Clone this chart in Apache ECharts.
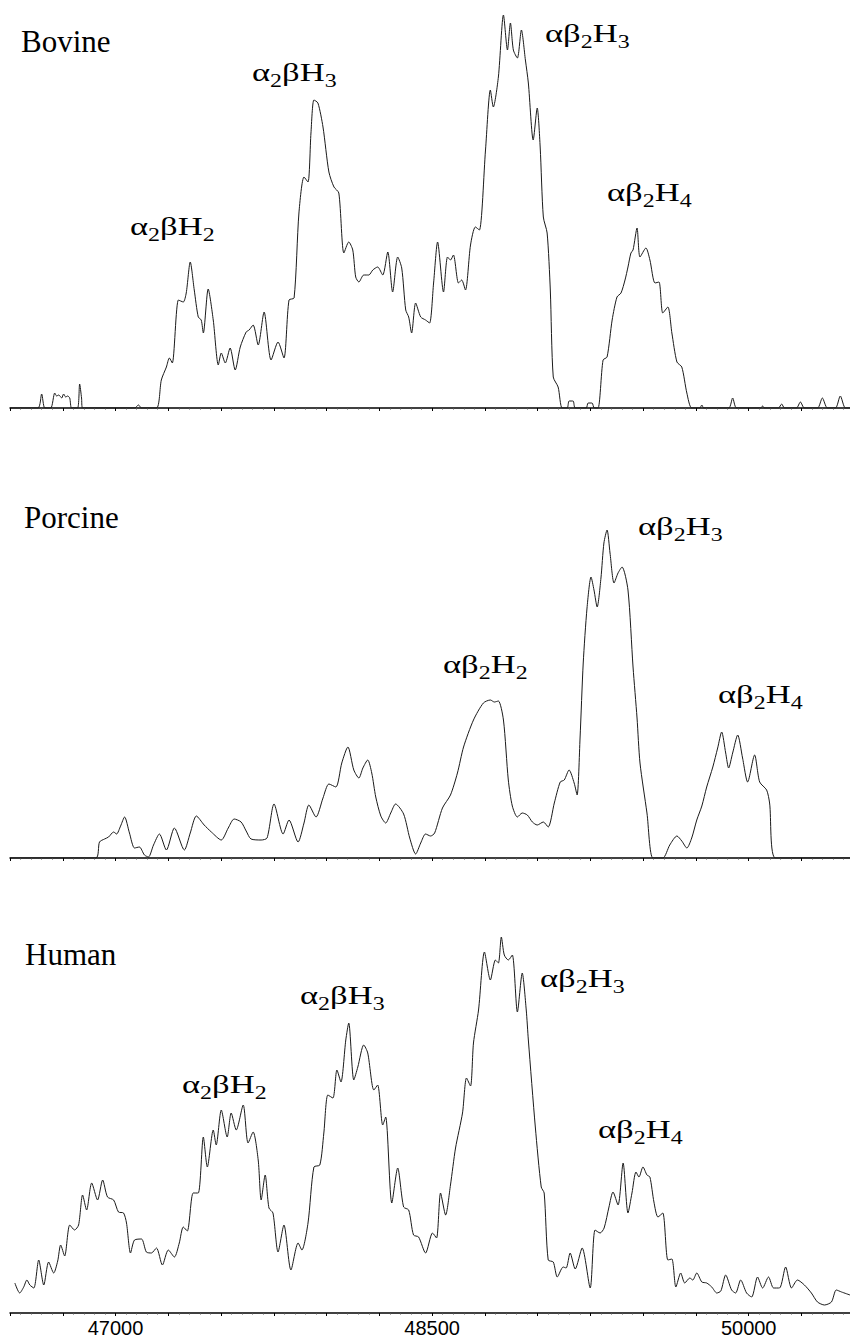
<!DOCTYPE html>
<html>
<head>
<meta charset="utf-8">
<script src="https://cdn.jsdelivr.net/npm/echarts@6/dist/echarts.min.js"></script>
<style>
html,body{margin:0;padding:0;background:#fff;}
#chart{width:850px;height:1339px;}
</style>
</head>
<body>
<div id="chart"></div>
<script>
// ---- data (mass in Da, intensity in arbitrary units) ----
var panelNames = ['Bovine', 'Porcine', 'Human'];
var xTickLabels = [47000, 48500, 50000];

var bovine = [
[46500,0],[46632,0],[46650,14],[46665,0],[46693,0],[46712,15],[46721,12],[46731,13],[46745,10],[46754,14],[46764,11],[46773,12],[46783,10],[46792,0],
[46820,0],[46830,24],[46839,10],[46844,0],[47090,0],[47109,3],[47123,0],[47194,0],[47217,28],[47241,41],[47255,50],[47269,45],
[47298,108],[47321,106],[47335,115],[47354,146],[47373,118],[47392,91],[47406,88],[47416,75],[47439,119],[47463,88],[47487,43],
[47501,55],[47520,45],[47543,60],[47567,38],[47591,61],[47619,76],[47633,78],[47652,83],[47676,63],[47704,96],[47737,48],
[47770,66],[47798,50],[47822,108],[47846,110],[47869,195],[47893,231],[47912,226],[47926,275],[47940,308],[47959,305],[47983,281],
[48011,236],[48035,221],[48058,215],[48082,155],[48105,166],[48124,158],[48138,131],[48153,126],[48176,133],[48200,133],[48219,138],
[48242,141],[48266,133],[48290,156],[48313,116],[48337,151],[48356,140],[48375,98],[48389,91],[48403,75],[48422,105],[48446,91],
[48469,88],[48488,85],[48507,125],[48526,166],[48554,116],[48573,151],[48587,148],[48601,153],[48625,125],[48640,128],[48658,118],
[48682,163],[48705,181],[48724,178],[48753,258],[48776,318],[48790,301],[48814,331],[48838,393],[48857,358],[48871,385],[48885,358],
[48904,350],[48923,378],[48942,348],[48956,325],[48979,268],[48998,300],[49012,261],[49027,191],[49045,175],[49060,118],[49074,31],
[49097,21],[49116,0],[49140,0],[49149,7],[49168,7],[49178,0],[49230,0],[49239,5],[49258,5],[49268,0],[49286,0],[49310,48],[49329,51],
[49353,88],[49376,111],[49395,115],[49414,128],[49428,141],[49442,155],[49452,158],[49471,180],[49485,151],[49513,160],[49532,148],
[49556,125],[49575,126],[49593,95],[49617,101],[49636,75],[49660,46],[49683,41],[49707,15],[49730,0],[49768,0],[49778,3],[49787,0],
[49905,0],[49924,10],[49943,0],[50056,0],[50066,2],[50075,0],[50141,0],[50156,4],[50170,0],[50226,0],[50245,6],[50264,0],
[50326,0],[50349,10],[50373,0],[50411,0],[50434,12],[50458,0],[50480,0]
];

var porcine = [
[46500,0],[46906,0],[46924,16],[46948,19],[46967,21],[46991,26],[47005,24],[47024,32],[47043,41],[47066,25],[47090,10],[47113,11],
[47137,3],[47156,1],[47180,13],[47208,24],[47241,8],[47279,30],[47326,8],[47354,25],[47383,42],[47420,33],[47454,26],[47501,18],
[47534,30],[47562,39],[47595,36],[47619,27],[47642,19],[47690,18],[47718,20],[47751,54],[47794,24],[47822,38],[47865,16],[47893,35],
[47916,53],[47950,41],[47983,60],[48011,74],[48044,71],[48072,95],[48101,111],[48129,88],[48153,80],[48172,90],[48195,98],[48214,85],
[48233,61],[48257,42],[48280,35],[48304,45],[48327,54],[48365,44],[48394,20],[48422,4],[48446,15],[48469,24],[48493,22],[48512,25],
[48549,50],[48587,63],[48620,85],[48649,111],[48696,138],[48743,155],[48776,158],[48795,156],[48814,157],[48838,138],[48861,78],
[48880,52],[48904,41],[48927,45],[48951,43],[48975,36],[48998,33],[49027,36],[49050,31],[49079,55],[49107,76],[49126,78],[49149,88],
[49173,75],[49187,63],[49201,120],[49216,195],[49234,250],[49253,281],[49267,268],[49282,251],[49300,280],[49314,315],[49329,328],
[49343,305],[49362,275],[49381,285],[49400,291],[49428,268],[49452,191],[49471,140],[49485,95],[49518,45],[49546,0],[49593,0],
[49626,13],[49660,22],[49683,17],[49707,10],[49730,20],[49754,38],[49778,52],[49801,71],[49830,91],[49853,110],[49872,126],[49891,105],
[49905,90],[49924,105],[49948,123],[49971,100],[49995,76],[50028,103],[50052,76],[50085,68],[50099,55],[50127,0],[50480,0]
];

var human = [
[46523,30],[46546,20],[46565,26],[46580,33],[46594,28],[46613,25],[46636,53],[46660,28],[46683,51],[46707,40],[46726,52],[46740,68],
[46759,57],[46783,88],[46806,83],[46825,88],[46844,118],[46863,103],[46887,130],[46915,113],[46939,133],[46962,116],[46991,113],
[47014,101],[47038,100],[47052,90],[47071,60],[47090,73],[47123,74],[47146,61],[47170,60],[47194,65],[47222,48],[47250,63],[47279,56],
[47302,70],[47321,86],[47340,82],[47368,120],[47392,120],[47416,176],[47435,146],[47463,183],[47477,168],[47501,203],[47529,176],
[47548,200],[47572,183],[47605,208],[47628,170],[47652,181],[47676,153],[47690,113],[47709,138],[47727,105],[47746,100],[47770,61],
[47798,88],[47831,43],[47865,70],[47883,63],[47912,90],[47940,146],[47968,148],[47987,180],[48006,218],[48030,215],[48049,243],
[48068,231],[48091,273],[48105,290],[48129,233],[48148,246],[48176,268],[48195,260],[48224,223],[48242,228],[48266,188],[48280,196],
[48309,110],[48337,145],[48365,106],[48389,103],[48412,78],[48436,76],[48469,60],[48502,80],[48521,75],[48540,120],[48564,98],
[48587,128],[48611,165],[48644,200],[48663,235],[48682,227],[48696,270],[48720,303],[48748,361],[48776,333],[48800,353],[48814,350],
[48828,376],[48842,358],[48861,353],[48880,358],[48904,301],[48927,340],[48946,303],[48956,273],[48989,186],[49017,126],[49031,120],
[49050,53],[49074,51],[49093,36],[49121,46],[49135,45],[49154,60],[49178,44],[49211,65],[49249,25],[49272,83],[49296,80],[49315,85],
[49338,106],[49357,121],[49381,108],[49405,150],[49428,100],[49447,120],[49466,141],[49480,136],[49499,146],[49518,138],[49532,136],
[49551,111],[49570,96],[49593,100],[49617,53],[49636,54],[49655,26],[49678,40],[49697,30],[49721,35],[49735,33],[49754,40],[49778,31],
[49801,30],[49825,26],[49849,20],[49868,22],[49891,38],[49919,23],[49938,20],[49962,33],[49990,20],[50014,16],[50042,36],[50066,25],
[50094,36],[50118,25],[50146,25],[50175,46],[50203,25],[50231,33],[50264,28],[50297,20],[50326,11],[50359,8],[50392,11],[50415,23],
[50440,21],[50480,18]
];

// peak annotation names (rich-text markup) per panel
var bovinePeaks = ['{n|α}{s|2}{n|βH}{s|2}', '{n|α}{s|2}{n|βH}{s|3}', '{n|αβ}{s|2}{n|H}{s|3}', '{n|αβ}{s|2}{n|H}{s|4}'];
var porcinePeaks = ['{n|αβ}{s|2}{n|H}{s|2}', '{n|αβ}{s|2}{n|H}{s|3}', '{n|αβ}{s|2}{n|H}{s|4}'];
var humanPeaks = ['{n|α}{s|2}{n|βH}{s|2}', '{n|α}{s|2}{n|βH}{s|3}', '{n|αβ}{s|2}{n|H}{s|3}', '{n|αβ}{s|2}{n|H}{s|4}'];

// ---- layout ----
var X_MIN = 46500, X_MAX = 50480;
var panelTops = [8, 458, 913];
var PANEL_H = 400;
var SERIF = 'Liberation Serif';
var nameTop = [26, 502, 939];
var nameLeft = [21, 24, 25];
var peakPos = [
  [[130, 235], [252, 81], [545, 42], [607, 201]],
  [[443, 673], [638, 535], [718, 703]],
  [[182, 1093], [300, 1004], [540, 987], [598, 1138]]
];
var peakTexts = [bovinePeaks, porcinePeaks, humanPeaks];
var seriesData = [bovine, porcine, human];

var chart = echarts.init(document.getElementById('chart'), null, {renderer: 'svg'});

var grids = [], xAxes = [], yAxes = [], series = [], graphics = [], titles = [];
for (var i = 0; i < 3; i++) {
  grids.push({left: 10, right: 0, top: panelTops[i], height: PANEL_H, containLabel: false, outerBoundsMode: 'none'});
  xAxes.push({
    type: 'value', gridIndex: i, min: X_MIN, max: X_MAX, interval: 250,
    axisLine: {show: true, onZero: false, lineStyle: {color: '#000', width: 1.5}},
    axisTick: {show: true, length: 3, lineStyle: {color: '#000', width: 1}},
    minorTick: {show: true, splitNumber: 5, length: 1.5, lineStyle: {color: '#555', width: 1}},
    splitLine: {show: false},
    axisLabel: {
      show: i === 2, margin: 5, color: '#000', fontSize: 20,
      fontFamily: 'Liberation Sans',
      showMinLabel: true, showMaxLabel: true,
      formatter: function (v) { return xTickLabels.indexOf(v) >= 0 ? String(v) : ''; }
    }
  });
  yAxes.push({type: 'value', gridIndex: i, min: 0, max: PANEL_H, show: false});
  series.push({
    type: 'line', xAxisIndex: i, yAxisIndex: i, data: seriesData[i],
    showSymbol: false, symbol: 'none', smooth: 0.25, silent: true,
    lineStyle: {color: '#1a1a1a', width: 1}
  });
  titles.push({
    text: panelNames[i], left: nameLeft[i], top: nameTop[i], padding: 0,
    textStyle: {fontFamily: SERIF, fontSize: 31, fontWeight: 'normal', color: '#000'}
  });
  for (var k = 0; k < peakTexts[i].length; k++) {
    graphics.push({
      type: 'text', x: peakPos[i][k][0], y: peakPos[i][k][1] + 9, scaleX: 1.33,
      style: {
        text: peakTexts[i][k], fill: '#000', verticalAlign: 'bottom', align: 'left',
        fontFamily: SERIF, fontSize: 26,
        rich: {
          n: {fontSize: 26, fontFamily: SERIF, fill: '#000'},
          s: {fontSize: 18, fontFamily: SERIF, fill: '#000', padding: [18, 0, 0, 0]}
        }
      }
    });
  }
}

chart.setOption({
  animation: false,
  backgroundColor: '#fff',
  title: titles,
  grid: grids, xAxis: xAxes, yAxis: yAxes, series: series, graphic: graphics
});
</script>
</body>
</html>
